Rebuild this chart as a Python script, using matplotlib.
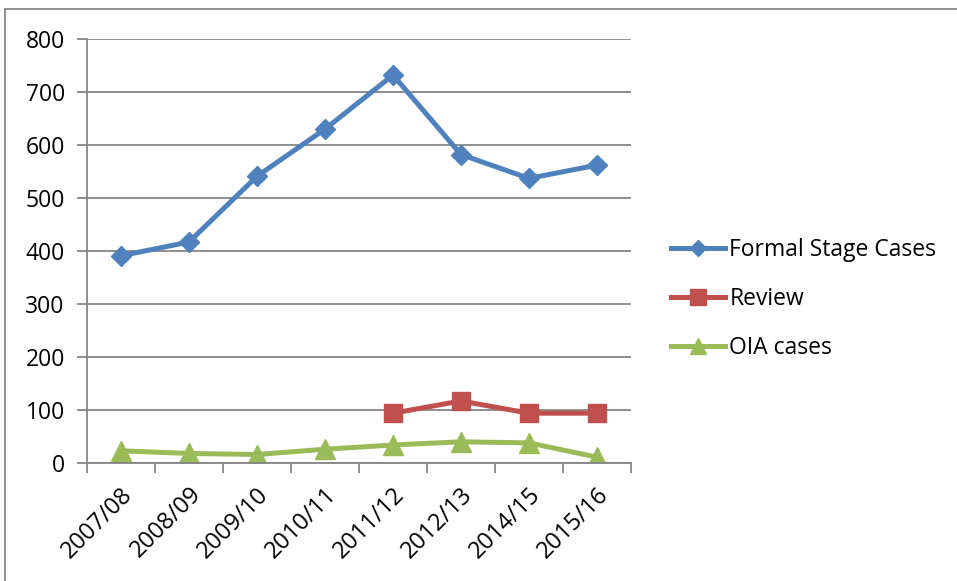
import numpy as np
import matplotlib.pyplot as plt
from matplotlib.patches import Rectangle

years = ['2007/08', '2008/09', '2009/10', '2010/11', '2011/12', '2012/13', '2014/15', '2015/16']
formal = [391, 417, 541, 630, 732, 582, 537, 562]
review = [np.nan, np.nan, np.nan, np.nan, 94, 117, 94, 94]
oia = [23, 18, 16, 26, 34, 40, 38, 11]

plt.rcParams['font.family'] = ['Open Sans', 'DejaVu Sans']
grey = '#868686'

fig = plt.figure(figsize=(9.57, 5.81), dpi=100)
ax = fig.add_axes([87 / 957, 1 - 463 / 581, (631 - 87) / 957, (463 - 39) / 581])

x = np.arange(len(years))
ax.plot(x, formal, color='#4F81BD', lw=3.6, marker='D', ms=10, label='Formal Stage Cases')
ax.plot(x, review, color='#C0504D', lw=3.6, marker='s', ms=13, label='Review')
ax.plot(x, oia, color='#9BBB59', lw=3.6, marker='^', ms=14, label='OIA cases')

ax.set_xlim(-0.5, len(years) - 0.5)
ax.set_ylim(0, 800)
ax.set_yticks(range(0, 801, 100))
ax.yaxis.grid(True, color=grey, lw=1.3)
ax.set_axisbelow(True)

ax.set_xticks(x)
ax.set_xticklabels(years, rotation=45, ha='right', rotation_mode='anchor', fontsize=17)
ax.set_xticks(np.arange(-0.5, len(years)), minor=True)
ax.tick_params(axis='x', which='major', length=0, pad=14)
ax.tick_params(axis='x', which='minor', length=7, color=grey, width=1.3)
ax.tick_params(axis='y', length=7, color=grey, width=1.3, labelsize=16.5, pad=9)

for s in ['top', 'right']:
    ax.spines[s].set_visible(False)
for s in ['left', 'bottom']:
    ax.spines[s].set_color(grey)
    ax.spines[s].set_linewidth(1.3)

fig.legend(loc='center left', bbox_to_anchor=(671 / 957, 1 - 299 / 581), frameon=False,
           fontsize=16.5, handlelength=2.35, handletextpad=0.2, labelspacing=1.1,
           borderpad=0, borderaxespad=0, markerscale=0.85)

fig.add_artist(Rectangle((5 / 957, -0.1), 1.1, 1 - 9 / 581 + 0.1, transform=fig.transFigure,
                         fill=False, edgecolor=grey, lw=1.3))

fig.savefig('out.png', dpi=100)
